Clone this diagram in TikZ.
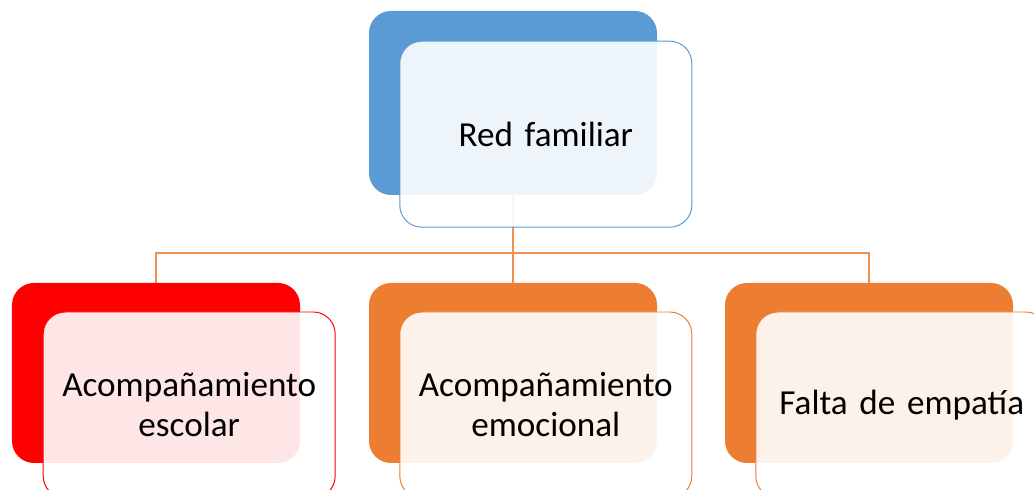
\documentclass[tikz,border=0pt]{standalone}
\usepackage{fontspec}
\setmainfont{Carlito}
\usetikzlibrary{positioning, calc}
\definecolor{smartblue}{HTML}{5B9BD5}
\definecolor{smartred}{HTML}{FF0000}
\definecolor{smartorange}{HTML}{ED7D31}
\tikzset{
	backbox/.style = {rectangle, rounded corners=0.55cm, draw=none, minimum width=7.2cm, minimum height=4.5cm, inner sep=0pt, outer sep=0pt},
	frontbox/.style = {rectangle, rounded corners=0.55cm, fill=white, fill opacity=0.9, text opacity=1, line width=0.7pt, minimum width=7.3cm, minimum height=4.65cm, inner sep=0pt, outer sep=0pt, text width=7cm, align=center, font=\fontsize{25}{28.5}\selectfont},
	link/.style = {draw=smartorange!85, line width=0.75pt}
}

\begin{document}
\begin{tikzpicture}

	\useasboundingbox (0,0) rectangle (25.85,-12.25);

	% Top level: back shape
	\node (fam_back) [backbox, fill=smartblue, minimum height=4.6cm] at (12.825,-2.575) {};

	% Second level: back shapes
	\node (emo_back) [backbox, fill=smartorange, below=2.2cm of fam_back] {};
	\node (school_back) [backbox, fill=smartred, left=1.725cm of emo_back] {};
	\node (empathy_back) [backbox, fill=smartorange, right=1.7cm of emo_back] {};

	% Connectors
	\draw [link] (fam_back.south) -- ++(0,-1.45) -| (school_back.north);
	\draw [link] (fam_back.south) -- ++(0,-1.45) -- (emo_back.north);
	\draw [link] (fam_back.south) -- ++(0,-1.45) -| (empathy_back.north);

	% Front shapes with text
	\node (fam_front) [frontbox, draw=smartblue] at ([shift={(0.82,-0.78)}]fam_back.center) {Red familiar};
	\node (school_front) [frontbox, draw=smartred] at ([shift={(0.83,-0.8)}]school_back.center) {Acompañamiento escolar};
	\node (emo_front) [frontbox, draw=smartorange] at ([shift={(0.82,-0.8)}]emo_back.center) {Acompañamiento emocional};
	\node (empathy_front) [frontbox, draw=smartorange] at ([shift={(0.82,-0.8)}]empathy_back.center) {Falta de empatía};

\end{tikzpicture}
\end{document}
